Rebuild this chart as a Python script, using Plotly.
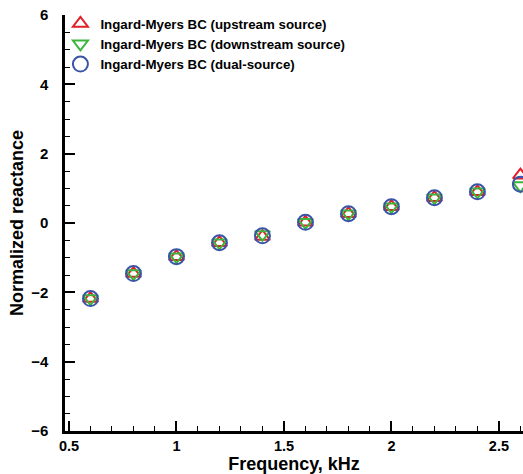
import plotly.graph_objects as go

freq = [0.6, 0.8, 1.0, 1.2, 1.4, 1.6, 1.8, 2.0, 2.2, 2.4, 2.6]
upstream = [-2.18, -1.46, -0.97, -0.57, -0.39, 0.02, 0.27, 0.47, 0.73, 0.90, 1.38]
downstream = [-2.18, -1.46, -0.97, -0.57, -0.33, 0.02, 0.27, 0.47, 0.73, 0.90, 1.08]
dual = [-2.18, -1.46, -0.97, -0.57, -0.37, 0.02, 0.27, 0.47, 0.73, 0.90, 1.12]

names = ["Ingard-Myers BC (upstream source)",
         "Ingard-Myers BC (downstream source)",
         "Ingard-Myers BC (dual-source)"]

fig = go.Figure()
fig.add_trace(go.Scatter(x=freq, y=upstream, mode="markers", name=names[0],
                         marker=dict(symbol="triangle-up-open", size=13, color="#e0202a",
                                     line=dict(width=2, color="#e0202a"))))
fig.add_trace(go.Scatter(x=freq, y=downstream, mode="markers", name=names[1],
                         marker=dict(symbol="triangle-down-open", size=13, color="#3cb53c",
                                     line=dict(width=2, color="#3cb53c"))))
fig.add_trace(go.Scatter(x=freq, y=dual, mode="markers", name=names[2],
                         marker=dict(symbol="circle-open", size=15, color="#3a54a8",
                                     line=dict(width=2, color="#3a54a8"))))

font_family = "Liberation Sans, Arial, sans-serif"
fig.update_layout(
    width=523, height=474,
    margin=dict(l=65, r=0, t=15, b=43),
    plot_bgcolor="white", paper_bgcolor="white",
    font=dict(family=font_family, color="black", size=13, weight="bold"),
    showlegend=True,
    legend=dict(x=-0.01, y=1.016, xanchor="left", yanchor="top",
                bgcolor="rgba(0,0,0,0)", borderwidth=0,
                font=dict(size=13.3, weight="bold", family=font_family),
                tracegroupgap=0, itemwidth=30),
    xaxis=dict(range=[0.4814, 2.612], showgrid=False, zeroline=False,
               showline=True, linecolor="black", linewidth=2.5,
               ticks="inside", ticklen=10, tickwidth=2, tickcolor="black",
               tick0=0.5, dtick=0.5,
               tickfont=dict(size=14.5, weight="bold"),
               minor=dict(ticks="inside", ticklen=5, tickwidth=1, tickcolor="black", dtick=0.1, tick0=0.5),
               title=dict(text="Frequency, kHz", font=dict(size=18, weight="bold"), standoff=4)),
    yaxis=dict(range=[-6, 6], showgrid=False, zeroline=False,
               showline=True, linecolor="black", linewidth=2.5,
               ticks="inside", ticklen=10, tickwidth=2, tickcolor="black",
               tick0=0, dtick=2, ticklabelstandoff=11,
               tickfont=dict(size=15, weight="bold"),
               minor=dict(ticks="inside", ticklen=5, tickwidth=1, tickcolor="black", dtick=0.5),
               title=dict(text="Normalized reactance", font=dict(size=18, weight="bold"), standoff=3)),
)

fig.write_html("out.html")
